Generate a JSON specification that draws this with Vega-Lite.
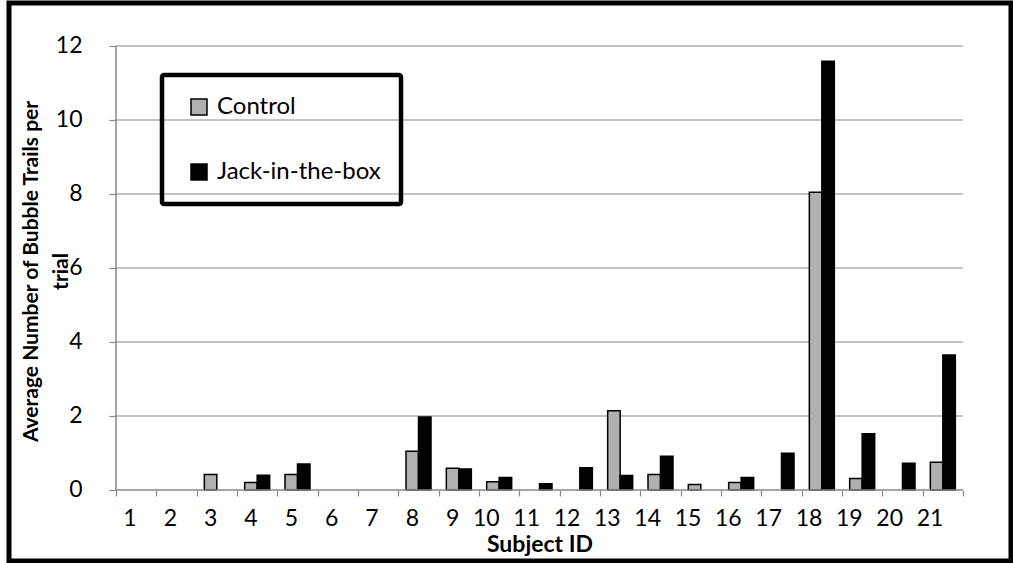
{
  "$schema": "https://vega.github.io/schema/vega-lite/v6.json",
  "width": 1002,
  "height": 558,
  "autosize": {"type": "none"},
  "padding": {"left": 9, "top": 3, "right": 2, "bottom": 2},
  "background": "white",
  "config": {"view": {"stroke": "black", "strokeWidth": 5}, "font": "Lato", "legend": {"strokeWidth": 4.5}},
  "datasets": {
    "bars": [
      {"subject": "1", "group": "Control", "value": 0}, {"subject": "1", "group": "Jack-in-the-box", "value": 0},
      {"subject": "2", "group": "Control", "value": 0}, {"subject": "2", "group": "Jack-in-the-box", "value": 0},
      {"subject": "3", "group": "Control", "value": 0.42}, {"subject": "3", "group": "Jack-in-the-box", "value": 0},
      {"subject": "4", "group": "Control", "value": 0.2}, {"subject": "4", "group": "Jack-in-the-box", "value": 0.4},
      {"subject": "5", "group": "Control", "value": 0.42}, {"subject": "5", "group": "Jack-in-the-box", "value": 0.7},
      {"subject": "6", "group": "Control", "value": 0}, {"subject": "6", "group": "Jack-in-the-box", "value": 0},
      {"subject": "7", "group": "Control", "value": 0}, {"subject": "7", "group": "Jack-in-the-box", "value": 0},
      {"subject": "8", "group": "Control", "value": 1.05}, {"subject": "8", "group": "Jack-in-the-box", "value": 1.97},
      {"subject": "9", "group": "Control", "value": 0.59}, {"subject": "9", "group": "Jack-in-the-box", "value": 0.57},
      {"subject": "10", "group": "Control", "value": 0.22}, {"subject": "10", "group": "Jack-in-the-box", "value": 0.34},
      {"subject": "11", "group": "Control", "value": 0}, {"subject": "11", "group": "Jack-in-the-box", "value": 0.17},
      {"subject": "12", "group": "Control", "value": 0}, {"subject": "12", "group": "Jack-in-the-box", "value": 0.6},
      {"subject": "13", "group": "Control", "value": 2.14}, {"subject": "13", "group": "Jack-in-the-box", "value": 0.39},
      {"subject": "14", "group": "Control", "value": 0.42}, {"subject": "14", "group": "Jack-in-the-box", "value": 0.91},
      {"subject": "15", "group": "Control", "value": 0.15}, {"subject": "15", "group": "Jack-in-the-box", "value": 0},
      {"subject": "16", "group": "Control", "value": 0.2}, {"subject": "16", "group": "Jack-in-the-box", "value": 0.34},
      {"subject": "17", "group": "Control", "value": 0}, {"subject": "17", "group": "Jack-in-the-box", "value": 0.99},
      {"subject": "18", "group": "Control", "value": 8.05}, {"subject": "18", "group": "Jack-in-the-box", "value": 11.59},
      {"subject": "19", "group": "Control", "value": 0.31}, {"subject": "19", "group": "Jack-in-the-box", "value": 1.52},
      {"subject": "20", "group": "Control", "value": 0}, {"subject": "20", "group": "Jack-in-the-box", "value": 0.72},
      {"subject": "21", "group": "Control", "value": 0.75}, {"subject": "21", "group": "Jack-in-the-box", "value": 3.65}
    ],
    "grid": [{"v": 0}, {"v": 2}, {"v": 4}, {"v": 6}, {"v": 8}, {"v": 10}, {"v": 12}]
  },
  "layer": [
    {
      "data": {"name": "grid"},
      "transform": [{"filter": "datum.v > 0"}],
      "mark": {"type": "rule", "color": "#888888", "strokeWidth": 1.2},
      "encoding": {
        "y": {"field": "v", "type": "quantitative"},
        "x": {"datum": "1", "bandPosition": 0},
        "x2": {"datum": "21", "bandPosition": 1}
      }
    },
    {
      "data": {"name": "bars"},
      "mark": {"type": "bar", "stroke": "black"},
      "encoding": {
        "x": {
          "field": "subject",
          "type": "nominal",
          "scale": {
            "domain": ["1","2","3","4","5","6","7","8","9","10","11","12","13","14","15","16","17","18","19","20","21"],
            "range": [107, 954],
            "paddingInner": 0,
            "paddingOuter": 0
          },
          "axis": {
            "orient": "bottom",
            "offset": -71,
            "domain": false,
            "grid": false,
            "tickBand": "extent",
            "tickColor": "#888888",
            "tickSize": 6,
            "tickWidth": 1.2,
            "labelAngle": 0,
            "labelFont": "Lato",
            "labelFontSize": 23,
            "labelColor": "black",
            "labelPadding": 22,
            "title": "Subject ID",
            "titleFont": "Lato",
            "titleFontSize": 23,
            "titleFontWeight": "bold",
            "titleColor": "black",
            "titleX": 530.5,
            "titleY": 61,
            "titleBaseline": "alphabetic"
          }
        },
        "xOffset": {
          "field": "group",
          "type": "nominal",
          "scale": {"domain": ["Control", "Jack-in-the-box"], "paddingInner": 0, "paddingOuter": 0.613}
        },
        "y": {
          "field": "value",
          "type": "quantitative",
          "scale": {"domain": [-1.919, 13.162], "nice": false, "zero": false},
          "axis": {
            "values": [0, 2, 4, 6, 8, 10, 12],
            "offset": -107,
            "domain": false,
            "grid": false,
            "tickColor": "#888888",
            "tickSize": 7,
            "tickWidth": 1.2,
            "labelFont": "Lato",
            "labelFontSize": 23,
            "labelColor": "black",
            "labelPadding": 27,
            "title": ["Average Number of Bubble Trails per", "trial"],
            "titleFont": "Lato",
            "titleFontSize": 21,
            "titleFontWeight": "bold",
            "titleColor": "black",
            "titleAngle": -90,
            "titleX": -79,
            "titleY": 268,
            "titleAlign": "center",
            "titleBaseline": "alphabetic",
            "titleLineHeight": 30
          }
        },
        "y2": {"datum": 0},
        "color": {
          "field": "group",
          "type": "nominal",
          "scale": {"domain": ["Control", "Jack-in-the-box"], "range": ["#b0b0b0", "#000000"]},
          "legend": {
            "title": null,
            "orient": "none",
            "legendX": 153,
            "legendY": 72,
            "direction": "vertical",
            "symbolType": "square",
            "symbolSize": 256,
            "symbolStrokeColor": "black",
            "symbolStrokeWidth": 1.5,
            "symbolOffset": 5,
            "labelFont": "Lato",
            "labelFontSize": 24,
            "labelLimit": 400,
            "labelColor": "black",
            "labelOffset": 6,
            "rowPadding": 41,
            "padding": 20,
            "strokeColor": "black",
            "cornerRadius": 2
          }
        },
        "strokeWidth": {"condition": {"test": "datum.value > 0", "value": 1.5}, "value": 0}
      }
    },
    {
      "data": {"name": "grid"},
      "transform": [{"filter": "datum.v == 0"}],
      "mark": {"type": "rule", "color": "#888888", "strokeWidth": 1.5},
      "encoding": {
        "y": {"field": "v", "type": "quantitative"},
        "x": {"datum": "1", "bandPosition": 0},
        "x2": {"datum": "21", "bandPosition": 1}
      }
    },
    {
      "data": {"name": "grid"},
      "transform": [{"filter": "datum.v == 0"}],
      "mark": {"type": "rule", "color": "#888888", "strokeWidth": 1.5},
      "encoding": {
        "x": {"datum": "1", "bandPosition": 0},
        "y": {"datum": 0},
        "y2": {"datum": 12}
      }
    }
  ]
}
